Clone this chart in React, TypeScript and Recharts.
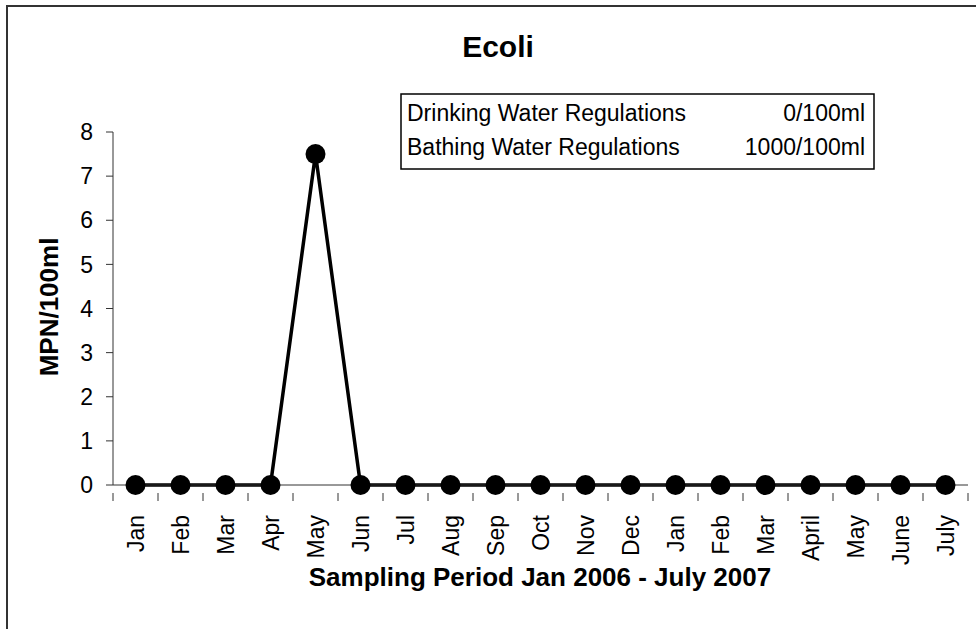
import { LineChart, Line, XAxis, YAxis } from "recharts";

const months = [
  "Jan", "Feb", "Mar", "Apr", "May", "Jun", "Jul", "Aug", "Sep", "Oct",
  "Nov", "Dec", "Jan", "Feb", "Mar", "April", "May", "June", "July",
];
const ecoli = [0, 0, 0, 0, 7.5, 0, 0, 0, 0, 0, 0, 0, 0, 0, 0, 0, 0, 0, 0];
const yTicks = [0, 1, 2, 3, 4, 5, 6, 7, 8];
const regulations = [
  { name: "Drinking Water Regulations", limit: "0/100ml" },
  { name: "Bathing Water Regulations", limit: "1000/100ml" },
];

const W = 976;
const H = 629;
const Y_AXIS_W = 60;
const X_AXIS_H = 100;
// plot box: x 113..968, y 132..485
const margin = { top: 132, right: 8, left: 113 - Y_AXIS_W, bottom: 144 - X_AXIS_H };
const band = (W - 113 - margin.right) / months.length;
const font = "'Liberation Sans', Arial, sans-serif";

const data = months.map((m, i) => ({ key: `${m}-${i}`, month: m, value: ecoli[i] }));

function MonthTick(props: any) {
  const { x, y, index } = props;
  const last = index === months.length - 1;
  return (
    <g>
      <line x1={x - band / 2} x2={x - band / 2} y1={y} y2={y + 8} stroke="#333" />
      {last && <line x1={x + band / 2} x2={x + band / 2} y1={y} y2={y + 8} stroke="#333" />}
      <text
        x={0}
        y={0}
        transform={`translate(${x + 8},${y + 22}) rotate(-90)`}
        textAnchor="end"
        fontSize={23}
        fontFamily={font}
        fill="#000"
      >
        {months[index]}
      </text>
    </g>
  );
}

export default function App() {
  return (
    <div style={{ position: "absolute", left: 0, top: 0, width: W, height: H, overflow: "hidden", background: "#fff" }}>
      <div
        style={{
          position: "absolute",
          left: 6,
          top: 5,
          width: W + 20,
          height: H + 20,
          border: "2px solid #333",
          boxSizing: "border-box",
        }}
      />
      <div style={{ position: "absolute", left: 0, top: 0 }}>
        <LineChart width={W} height={H} data={data} margin={margin}>
          <XAxis
            dataKey="key"
            interval={0}
            tickLine={false}
            axisLine={{ stroke: "#333" }}
            tick={<MonthTick />}
            height={X_AXIS_H}
            padding={{ left: band / 2, right: band / 2 }}
          />
          <YAxis
            domain={[0, 8]}
            ticks={yTicks}
            interval={0}
            tickSize={7}
            tickMargin={13}
            tickLine={{ stroke: "#333" }}
            axisLine={{ stroke: "#333" }}
            tick={{ fill: "#000", fontSize: 23, fontFamily: font }}
            width={Y_AXIS_W}
          />
          <Line
            type="linear"
            dataKey="value"
            stroke="#000"
            strokeWidth={3.5}
            dot={{ r: 10, fill: "#000", stroke: "#000", strokeWidth: 0 }}
            activeDot={false}
            isAnimationActive={false}
          />
        </LineChart>
      </div>
      <svg width={W} height={H} style={{ position: "absolute", left: 0, top: 0, pointerEvents: "none" }}>
        <text x={498} y={57} textAnchor="middle" fontSize={30} fontWeight="bold" fontFamily={font} fill="#000">
          Ecoli
        </text>
        <text x={540} y={586} textAnchor="middle" fontSize={26} fontWeight="bold" fontFamily={font} fill="#000">
          Sampling Period Jan 2006 - July 2007
        </text>
        <text
          transform="translate(58,307) rotate(-90)"
          textAnchor="middle"
          fontSize={26}
          fontWeight="bold"
          fontFamily={font}
          fill="#000"
        >
          MPN/100ml
        </text>
        <rect x={401} y={94} width={473} height={75} fill="#fff" stroke="#000" strokeWidth={1.5} />
        {regulations.map((r, i) => (
          <g key={r.name}>
            <text x={407} y={121 + i * 34} fontSize={23} fontFamily={font} fill="#000">
              {r.name}
            </text>
            <text x={865} y={121 + i * 34} textAnchor="end" fontSize={23} fontFamily={font} fill="#000">
              {r.limit}
            </text>
          </g>
        ))}
      </svg>
    </div>
  );
}
